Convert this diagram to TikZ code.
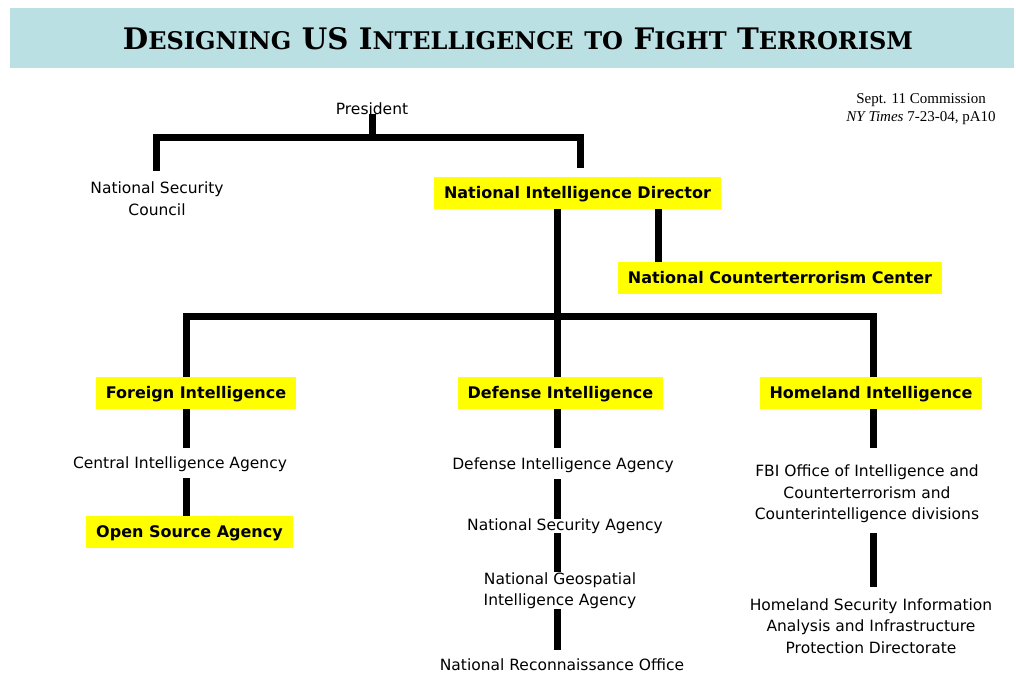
\documentclass[tikz,border=0pt]{standalone}
\usepackage{fontspec}
\usepackage{graphicx}
\usetikzlibrary{backgrounds}
\setmainfont{DejaVu Sans}
\newfontfamily\titlefont{DejaVu Serif}
\newfontfamily\citefont{Liberation Serif}
\definecolor{barteal}{RGB}{186,224,228}
\definecolor{hiyellow}{RGB}{255,255,0}
% one word of the heading in large and small capitals
\newcommand\capsword[2]{{\fontsize{25}{25}\selectfont #1}{\fontsize{20.5}{20.5}\selectfont #2}}
\newcommand\wordgap{\hspace{0.9em}}

\begin{document}
\begin{tikzpicture}[x=1pt,y=-1pt,
  txt/.style={font=\fontsize{15.5}{21.5}\selectfont, inner sep=0pt, align=center, yshift=-1.5pt},
  hibox/.style={fill=hiyellow, font=\fontsize{16}{19}\selectfont\bfseries,
                inner xsep=10pt, inner ysep=0pt, minimum height=32pt,
                text height=12pt, text depth=1pt},
  conn/.style={line width=7pt, black}]
\useasboundingbox (0,0) rectangle (1016,673);

% heading
\node (title) at (518,39) {\resizebox{790pt}{22pt}{\titlefont\bfseries
  \capsword{D}{ESIGNING}\wordgap\capsword{US}{}\wordgap\capsword{I}{NTELLIGENCE}\wordgap
  \capsword{}{TO}\wordgap\capsword{F}{IGHT}\wordgap\capsword{T}{ERRORISM}}};

\node[font=\citefont\fontsize{15}{18}\selectfont, align=center, inner sep=0pt]
  (cite) at (921,109) {Sept. 11 Commission\\\textit{NY Times} 7-23-04, pA10};

% organisation units
\node[txt] (pres) at (372,107) {President};
\node[txt] (nsc) at (157,197) {National Security\\Council};
\node[hibox] (nid) at (577.5,193) {National Intelligence Director};
\node[hibox] (nctc) at (780,278) {National Counterterrorism Center};
\node[hibox] (fi) at (196,393) {Foreign Intelligence};
\node[hibox] (di) at (560.5,393) {Defense Intelligence};
\node[hibox] (hi) at (871,393) {Homeland Intelligence};
\node[txt] (cia) at (180,463) {Central Intelligence Agency};
\node[hibox] (osa) at (189.5,532) {Open Source Agency};
\node[txt] (dia) at (563,464) {Defense Intelligence Agency};
\node[txt] (nsa) at (565,525) {National Security Agency};
\node[txt] (ngia) at (560,589) {National Geospatial\\Intelligence Agency};
\node[txt] (nro) at (562,663) {National Reconnaissance Office};
\node[txt] (fbi) at (867,492.5) {FBI Office of Intelligence and\\Counterterrorism and\\Counterintelligence divisions};
\node[txt] (hsi) at (871,624.5) {Homeland Security Information\\Analysis and Infrastructure\\Protection Directorate};

% column positions and junctions of the tree
\coordinate (colS) at (156,0);
\coordinate (colI) at (580,0);
\coordinate (colF) at (186,0);
\coordinate (colM) at (557,0);
\coordinate (colN) at (658,0);
\coordinate (colH) at (873,0);
\coordinate (top) at (372,137);
\coordinate (mid) at (557,316);

\begin{pgfonlayer}{background}
  \fill[barteal] (10,8) rectangle (1014,68);
  % president level
  \draw[conn, shorten <=-1pt] (pres.south) -- (top);
  \draw[conn, shorten <=11pt, shorten >=9pt] (nsc.north -| colS) |- (top) -| (nid.north -| colI);
  % director level
  \draw[conn] (nid.south -| colM) -- (mid);
  \draw[conn] (nid.south -| colN) -- (nctc.north -| colN);
  \draw[conn] (fi.north -| colF) |- (mid) -| (hi.north -| colH);
  \draw[conn] (mid) -- (di.north -| colM);
  % foreign column
  \draw[conn, shorten >=9pt] (fi.south -| colF) -- (cia.north -| colF);
  \draw[conn, shorten <=6pt] (cia.south -| colF) -- (osa.north -| colF);
  % defense column
  \draw[conn, shorten >=10pt] (di.south -| colM) -- (dia.north -| colM);
  \draw[conn, shorten <=6pt] (dia.south -| colM) -- (nsa.north -| colM);
  \draw[conn, shorten <=-1pt] (nsa.south -| colM) -- (ngia.north -| colM);
  \draw[conn, shorten >=8pt] (ngia.south -| colM) -- (nro.north -| colM);
  % homeland column
  \draw[conn, shorten >=17pt] (hi.south -| colH) -- (fbi.north -| colH);
  \draw[conn, shorten <=10pt, shorten >=11pt] (fbi.south -| colH) -- (hsi.north -| colH);
\end{pgfonlayer}
\end{tikzpicture}
\end{document}
